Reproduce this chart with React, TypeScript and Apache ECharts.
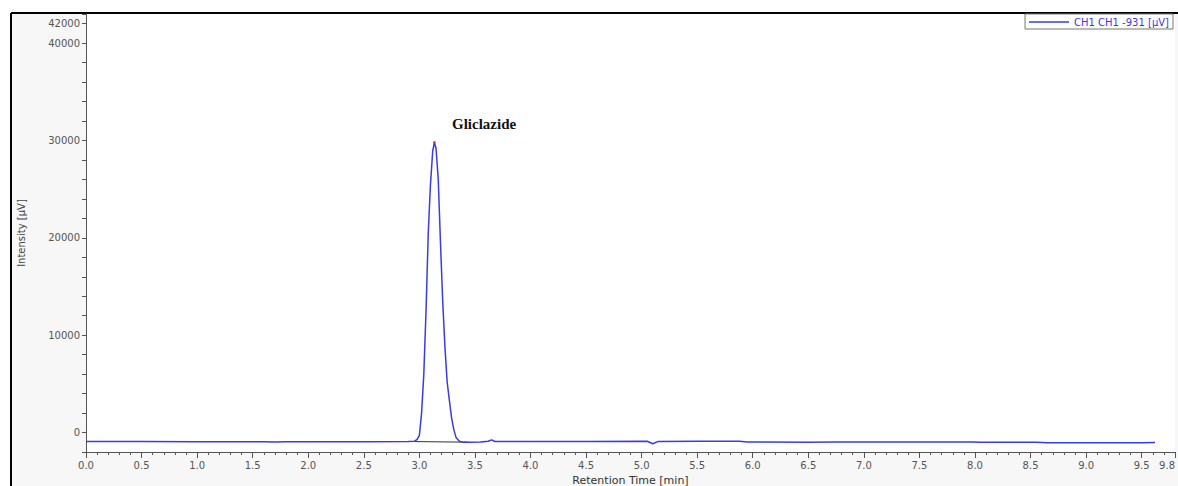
import React, { useEffect, useRef } from "react";
import * as echarts from "echarts";

const seriesName = "CH1 CH1 -931 [µV]";

const times = [
  0, 0.5, 1.0, 1.6, 1.7, 1.8, 2.5, 2.9, 2.955, 2.98, 3.0, 3.02, 3.04, 3.06, 3.08, 3.1, 3.12, 3.135,
  3.15, 3.17, 3.19, 3.21, 3.23, 3.25, 3.27, 3.29, 3.31, 3.33, 3.36, 3.4, 3.45, 3.55, 3.62, 3.65,
  3.68, 4.0, 4.5, 5.05, 5.1, 5.15, 5.5, 5.88, 5.95, 6.5, 6.75, 7.5, 7.98, 8.05, 8.55, 8.65, 9.0,
  9.5, 9.62,
];
const intensity = [
  -930, -930, -935, -940, -960, -940, -935, -930, -900, -700, -300, 2000, 6000, 12500, 20500, 25500,
  28900, 29800, 29200, 26000, 19500, 13500, 8800, 5200, 3300, 1500, 300, -500, -900, -1010, -990,
  -960, -900, -760, -920, -920, -910, -900, -1150, -910, -900, -900, -980, -990, -970, -970, -980,
  -1000, -1000, -1060, -1060, -1060, -1030,
];

const peakBaseTimes = [2.96, 3.44];
const peakBaseValues = [-930, -990];
const peakApex = [3.135, 29800];

const yLabels = [0, 10000, 20000, 30000, 40000, 42000];

export default function App() {
  const ref = useRef<HTMLDivElement>(null);
  useEffect(() => {
    document.body.style.margin = "0";
    document.body.style.overflow = "hidden";
    const chart = echarts.init(ref.current!, undefined, { renderer: "svg" });
    const font = "DejaVu Sans";
    chart.setOption({
      animation: false,
      backgroundColor: "#f7f7f7",
      textStyle: { fontFamily: font },
      grid: {
        left: 86,
        top: 14,
        right: 3,
        bottom: 34,
        show: true,
        backgroundColor: "#ffffff",
        borderWidth: 0,
        outerBoundsMode: "none",
        containLabel: false,
      },
      legend: {
        data: [seriesName],
        right: 5,
        top: 14,
        backgroundColor: "#ffffff",
        borderColor: "#777",
        borderWidth: 1,
        padding: [3, 4, 2, 4],
        icon: "rect",
        itemWidth: 40,
        itemHeight: 1.5,
        itemGap: 4,
        textStyle: { color: "#3a3ae8", fontSize: 10, fontFamily: font },
      },
      graphic: [
        { type: "rect", shape: { x: 0, y: 0, width: 1178, height: 13 }, style: { fill: "#fff" }, silent: true },
        { type: "rect", shape: { x: 0, y: 0, width: 11, height: 486 }, style: { fill: "#fff" }, silent: true },
        { type: "line", shape: { x1: 11, y1: 13, x2: 1178, y2: 13 }, style: { stroke: "#000", lineWidth: 2 }, silent: true },
        { type: "line", shape: { x1: 11, y1: 13, x2: 11, y2: 486 }, style: { stroke: "#000", lineWidth: 2 }, silent: true },
        {
          type: "text",
          left: 452,
          top: 116,
          style: {
            text: "Gliclazide",
            font: 'bold 15px "Liberation Serif"',
            fill: "#111",
          },
        },
      ],
      xAxis: {
        type: "value",
        min: 0,
        max: 9.8,
        interval: 0.5,
        name: "Retention Time [min]",
        nameLocation: "middle",
        nameGap: 22,
        nameTextStyle: { color: "#333", fontSize: 11 },
        axisLine: { show: true, onZero: false, lineStyle: { color: "#555" } },
        axisTick: { show: true, length: 6, lineStyle: { color: "#555" } },
        minorTick: { show: true, splitNumber: 5, length: 3, lineStyle: { color: "#555" } },
        splitLine: { show: false },
        axisLabel: {
          color: "#555",
          fontSize: 10,
          margin: 8,
          showMaxLabel: true,
          alignMaxLabel: "right",
          formatter: (v: number) => v.toFixed(1),
        },
      },
      yAxis: {
        type: "value",
        min: -2000,
        max: 43000,
        interval: 2000,
        name: "Intensity [µV]",
        nameLocation: "middle",
        nameGap: 60,
        nameTextStyle: { color: "#444", fontSize: 10 },
        axisLine: { show: true, onZero: false, lineStyle: { color: "#555" } },
        axisTick: { show: true, length: 4, lineStyle: { color: "#555" } },
        splitLine: { show: false },
        axisLabel: {
          color: "#555",
          fontSize: 10,
          margin: 6,
          showMinLabel: true,
          showMaxLabel: true,
          formatter: (v: number) => (yLabels.indexOf(v) >= 0 ? String(v) : ""),
        },
      },
      series: [
        {
          name: seriesName,
          type: "line",
          symbol: "none",
          lineStyle: { color: "#3a3ae8", width: 1.5 },
          itemStyle: { color: "#3a3ae8" },
          data: times.map((t, i) => [t, intensity[i]]),
          z: 3,
        },
        {
          name: "peak baseline",
          type: "line",
          symbol: "none",
          lineStyle: { color: "#333", width: 1 },
          data: peakBaseTimes.map((t, i) => [t, peakBaseValues[i]]),
          z: 2,
        },
        {
          name: "apex",
          type: "scatter",
          symbolSize: 3,
          itemStyle: { color: "#e03030" },
          data: [peakApex],
          z: 4,
        },
      ],
    });
    return () => chart.dispose();
  }, []);
  return (
    <div
      ref={ref}
      style={{ position: "absolute", left: 0, top: 0, width: 1178, height: 486 }}
    />
  );
}
